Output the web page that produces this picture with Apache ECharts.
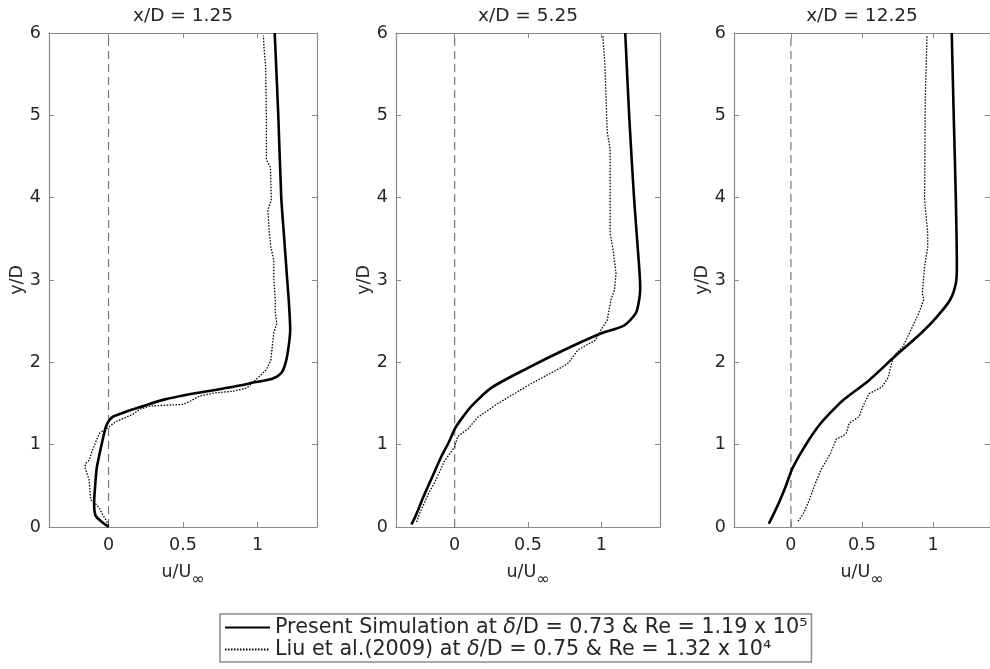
<!DOCTYPE html>
<html><head><meta charset="utf-8">
<script src="https://cdn.jsdelivr.net/npm/echarts@6/dist/echarts.min.js"></script>
<style>html,body{margin:0;padding:0;background:#fff}#c{width:990px;height:669px}</style>
</head><body><div id="c"></div>
<script>
// ---- data (u/U_inf, y/D) ----
const panelTitles = ['x/D = 1.25', 'x/D = 5.25', 'x/D = 12.25'];
const xTicks = [0, 0.5, 1];
const yTicks = [0, 1, 2, 3, 4, 5, 6];
const simName = 'sim';
const expName = 'exp';

const sim_125 = [[0,0.0],[-0.05,0.07],[-0.085,0.13],[-0.095,0.2],[-0.097,0.3],[-0.09,0.5],[-0.08,0.71],[-0.065,0.85],[-0.047,1.0],[-0.018,1.22],[0.003,1.29],[0.03,1.34],[0.07,1.37],[0.13,1.41],[0.2,1.45],[0.38,1.55],[0.6,1.63],[0.83,1.70],[0.99,1.76],[1.1,1.80],[1.16,1.87],[1.19,2.0],[1.21,2.2],[1.22,2.4],[1.21,2.76],[1.2,3.0],[1.18,3.5],[1.16,4.0],[1.14,5.0],[1.116,6.0]];
const exp_125 = [[0,0.02],[-0.015,0.08],[-0.04,0.15],[-0.06,0.22],[-0.08,0.27],[-0.1,0.3],[-0.12,0.33],[-0.125,0.45],[-0.13,0.57],[-0.145,0.65],[-0.16,0.73],[-0.15,0.78],[-0.13,0.81],[-0.115,0.9],[-0.1,0.97],[-0.08,1.06],[-0.06,1.14],[-0.02,1.19],[0.005,1.22],[0.05,1.28],[0.1,1.32],[0.165,1.37],[0.21,1.43],[0.28,1.47],[0.4,1.48],[0.5,1.49],[0.55,1.53],[0.61,1.59],[0.72,1.63],[0.84,1.65],[0.93,1.69],[0.99,1.79],[1.03,1.86],[1.06,1.91],[1.09,2.03],[1.1,2.2],[1.11,2.36],[1.13,2.47],[1.12,2.6],[1.12,2.76],[1.11,3.0],[1.11,3.24],[1.09,3.4],[1.08,3.57],[1.07,3.85],[1.093,3.97],[1.09,4.2],[1.087,4.37],[1.06,4.46],[1.06,4.99],[1.055,5.6],[1.045,5.8],[1.04,5.97]];

const sim_525 = [[-0.295,0.03],[-0.27,0.12],[-0.24,0.25],[-0.21,0.38],[-0.18,0.5],[-0.135,0.68],[-0.09,0.86],[-0.04,1.03],[0,1.19],[0.045,1.31],[0.116,1.47],[0.25,1.69],[0.497,1.93],[0.746,2.15],[0.996,2.35],[1.157,2.45],[1.236,2.6],[1.258,2.76],[1.265,2.9],[1.258,3.16],[1.224,3.97],[1.19,4.99],[1.163,6]];
const exp_525 = [[-0.26,0.06],[-0.24,0.16],[-0.21,0.28],[-0.18,0.40],[-0.14,0.53],[-0.11,0.64],[-0.09,0.72],[-0.07,0.8],[-0.03,0.9],[0,0.97],[0.02,1.1],[0.09,1.19],[0.156,1.33],[0.295,1.5],[0.52,1.74],[0.75,1.96],[0.78,2.0],[0.84,2.15],[0.96,2.27],[0.996,2.39],[1.04,2.51],[1.066,2.76],[1.09,2.88],[1.1,3.08],[1.08,3.37],[1.06,3.57],[1.06,4.6],[1.04,4.8],[1.025,5.6],[1.01,5.97]];

const sim_1225 = [[-0.155,0.04],[-0.115,0.18],[-0.075,0.33],[-0.035,0.5],[0.005,0.69],[0.05,0.84],[0.095,0.97],[0.15,1.12],[0.21,1.26],[0.29,1.41],[0.367,1.54],[0.548,1.78],[0.73,2.07],[0.913,2.35],[1.025,2.55],[1.12,2.76],[1.16,2.96],[1.167,3.16],[1.16,3.97],[1.145,4.99],[1.131,6]];
const exp_1225 = [[0.05,0.07],[0.075,0.13],[0.095,0.19],[0.13,0.33],[0.163,0.49],[0.21,0.69],[0.277,0.89],[0.32,1.07],[0.36,1.1],[0.39,1.14],[0.41,1.26],[0.48,1.34],[0.505,1.46],[0.55,1.62],[0.64,1.7],[0.685,1.82],[0.71,2.0],[0.73,2.09],[0.787,2.19],[0.81,2.27],[0.843,2.39],[0.9,2.6],[0.934,2.76],[0.924,2.84],[0.94,3.16],[0.962,3.4],[0.962,3.57],[0.94,3.97],[0.945,5.2],[0.957,5.97]];

const zeroLine = [[0,0],[0,6]];
const simData = [sim_125, sim_525, sim_1225];
const expData = [exp_125, exp_525, exp_1225];

// ---- layout ----
const gridLefts = [49, 396, 734];
const gridWidths = [268, 264, 264];
const FONT = '"DejaVu Sans", sans-serif';
const AX = '#8a8a8a';
const TXT = '#262626';
const FS = 17.5;
const LFS = 20.7;

const grids = [], xAxes = [], yAxes = [], series = [];
for (let i = 0; i < 3; i++) {
  grids.push({left: gridLefts[i], top: 33, width: gridWidths[i], height: 494});
  xAxes.push({
    type: 'value', gridIndex: i, position: 'bottom', min: -0.4, max: 1.4,
    axisLine: {show: true, onZero: false, lineStyle: {color: AX, width: 1.2}},
    axisTick: {show: true, inside: true, length: 5, customValues: xTicks, lineStyle: {color: AX}},
    axisLabel: {show: true, customValues: xTicks, color: TXT, fontSize: FS, fontFamily: FONT, margin: 9},
    splitLine: {show: false},
    name: 'u/U{s|∞}', nameLocation: 'middle', nameGap: 29,
    nameTextStyle: {color: TXT, fontSize: FS, fontFamily: FONT,
      rich: {s: {fontSize: 16, fontFamily: FONT, color: TXT, padding: [16, 0, 0, 0]}}}
  });
  xAxes.push({
    type: 'value', gridIndex: i, position: 'top', min: -0.4, max: 1.4,
    axisLine: {show: true, onZero: false, lineStyle: {color: AX, width: 1.2}},
    axisTick: {show: true, inside: true, length: 5, customValues: xTicks, lineStyle: {color: AX}},
    axisLabel: {show: false}, splitLine: {show: false},
    name: panelTitles[i], nameLocation: 'middle', nameGap: 7,
    nameTextStyle: {color: TXT, fontSize: 18.5, fontFamily: FONT}
  });
  yAxes.push({
    type: 'value', gridIndex: i, position: 'left', min: 0, max: 6, interval: 1,
    axisLine: {show: true, onZero: false, lineStyle: {color: AX, width: 1.2}},
    axisTick: {show: true, inside: true, length: 5, lineStyle: {color: AX}},
    axisLabel: {show: true, color: TXT, fontSize: FS, fontFamily: FONT, margin: 8},
    splitLine: {show: false},
    name: 'y/D', nameLocation: 'middle', nameGap: 21, nameRotate: 90,
    nameTextStyle: {color: TXT, fontSize: FS, fontFamily: FONT}
  });
  yAxes.push({
    type: 'value', gridIndex: i, position: 'right', min: 0, max: 6, interval: 1,
    axisLine: {show: true, onZero: false, lineStyle: {color: AX, width: 1.2}},
    axisTick: {show: true, inside: true, length: 5, lineStyle: {color: AX}},
    axisLabel: {show: false}, splitLine: {show: false}
  });
  series.push({
    type: 'line', xAxisIndex: 2 * i, yAxisIndex: 2 * i, data: zeroLine,
    symbol: 'none', silent: true, lineStyle: {color: '#777', width: 1.2, type: [8, 5]}, z: 1
  });
  series.push({
    name: expName, type: 'line', xAxisIndex: 2 * i, yAxisIndex: 2 * i, data: expData[i],
    symbol: 'none', lineStyle: {color: '#000', width: 1.3, type: [1.5, 1.5]}, z: 2
  });
  series.push({
    name: simName, type: 'line', xAxisIndex: 2 * i, yAxisIndex: 2 * i, data: simData[i],
    symbol: 'none', smooth: 0.25, lineStyle: {color: '#000', width: 2.6}, z: 3
  });
}

const legendLabels = {
  sim: '{n|Present Simulation at }{i|δ}{n|/D = 0.73 & Re = 1.19 x 10⁵}',
  exp: '{n|Liu et al.(2009) at }{i|δ}{n|/D = 0.75 & Re = 1.32 x 10⁴}'
};

const chart = echarts.init(document.getElementById('c'), null, {renderer: 'canvas'});
chart.setOption({
  animation: false,
  backgroundColor: '#fff',
  grid: grids, xAxis: xAxes, yAxis: yAxes, series: series,
  legend: {
    data: [simName, expName], orient: 'vertical', left: 220, top: 614,
    itemWidth: 45, itemHeight: 14, itemGap: 1,
    padding: [3, 4, 2, 4],
    borderColor: '#8a8a8a', borderWidth: 1.5, backgroundColor: '#fff',
    selectedMode: false,
    itemStyle: {color: 'rgba(0,0,0,0)', borderWidth: 0, opacity: 0},
    formatter: n => legendLabels[n],
    textStyle: {color: TXT, fontSize: LFS, fontFamily: FONT, padding: [0, 0, 0, 0],
      rich: {n: {fontSize: LFS, fontFamily: FONT, color: TXT, lineHeight: 24},
             i: {fontSize: LFS, fontFamily: FONT, fontStyle: 'italic', color: TXT, lineHeight: 24}}}
  }
});
</script></body></html>
